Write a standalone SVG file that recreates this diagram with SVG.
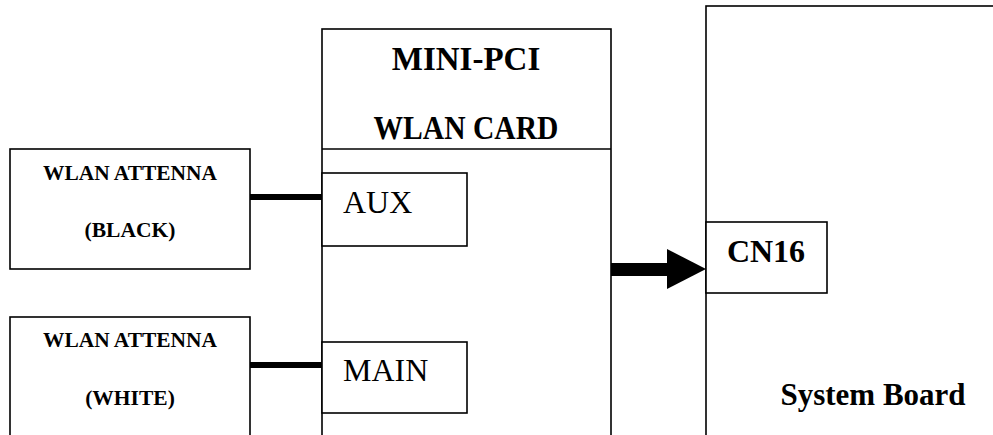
<svg xmlns="http://www.w3.org/2000/svg" width="993" height="435" viewBox="0 0 993 435">
<style>
.box{fill:#fff;stroke:#000;stroke-width:1.6}
.b{font-family:"Liberation Serif","Times New Roman",serif;font-weight:bold;fill:#000}
.r{font-family:"Liberation Serif","Times New Roman",serif;fill:#000}
.wire{stroke:#000;stroke-width:6;fill:none}
</style>
<rect width="993" height="435" fill="#fff"/>
<g id="system-board">
<rect class="box" x="706" y="6" width="300" height="440"/>
<text class="b" x="873" y="405" font-size="31" text-anchor="middle">System Board</text>
</g>
<g id="cn16">
<rect class="box" x="706" y="222" width="121" height="71"/>
<text class="b" x="766" y="262" font-size="32" text-anchor="middle">CN16</text>
</g>
<g id="wlan-card">
<rect class="box" x="322" y="29" width="289" height="420"/>
<line x1="322" y1="149" x2="611" y2="149" stroke="#000" stroke-width="1.6"/>
<text class="b" x="466" y="70" font-size="33" text-anchor="middle">MINI-PCI</text>
<text class="b" x="466" y="139" font-size="33" text-anchor="middle" textLength="185" lengthAdjust="spacingAndGlyphs">WLAN CARD</text>
</g>
<g id="aux">
<rect class="box" x="322" y="173" width="145" height="73"/>
<text class="r" x="343" y="213" font-size="32">AUX</text>
</g>
<g id="main">
<rect class="box" x="322" y="342" width="145" height="71"/>
<text class="r" x="343" y="381" font-size="32">MAIN</text>
</g>
<g id="antenna-black">
<rect class="box" x="10" y="149" width="240" height="120"/>
<text class="b" x="130" y="180" font-size="21.5" text-anchor="middle" textLength="174" lengthAdjust="spacingAndGlyphs">WLAN ATTENNA</text>
<text class="b" x="130" y="237" font-size="21.5" text-anchor="middle">(BLACK)</text>
</g>
<g id="antenna-white">
<rect class="box" x="10" y="317" width="240" height="130"/>
<text class="b" x="130" y="347" font-size="21.5" text-anchor="middle" textLength="174" lengthAdjust="spacingAndGlyphs">WLAN ATTENNA</text>
<text class="b" x="130" y="405" font-size="21.5" text-anchor="middle">(WHITE)</text>
</g>
<g id="connectors">
<line class="wire" x1="250" y1="197" x2="322" y2="197"/>
<line class="wire" x1="250" y1="365" x2="322" y2="365"/>
<rect x="611" y="263" width="57" height="13" fill="#000"/>
<polygon points="667,249 706,269 667,289" fill="#000"/>
</g>
</svg>
